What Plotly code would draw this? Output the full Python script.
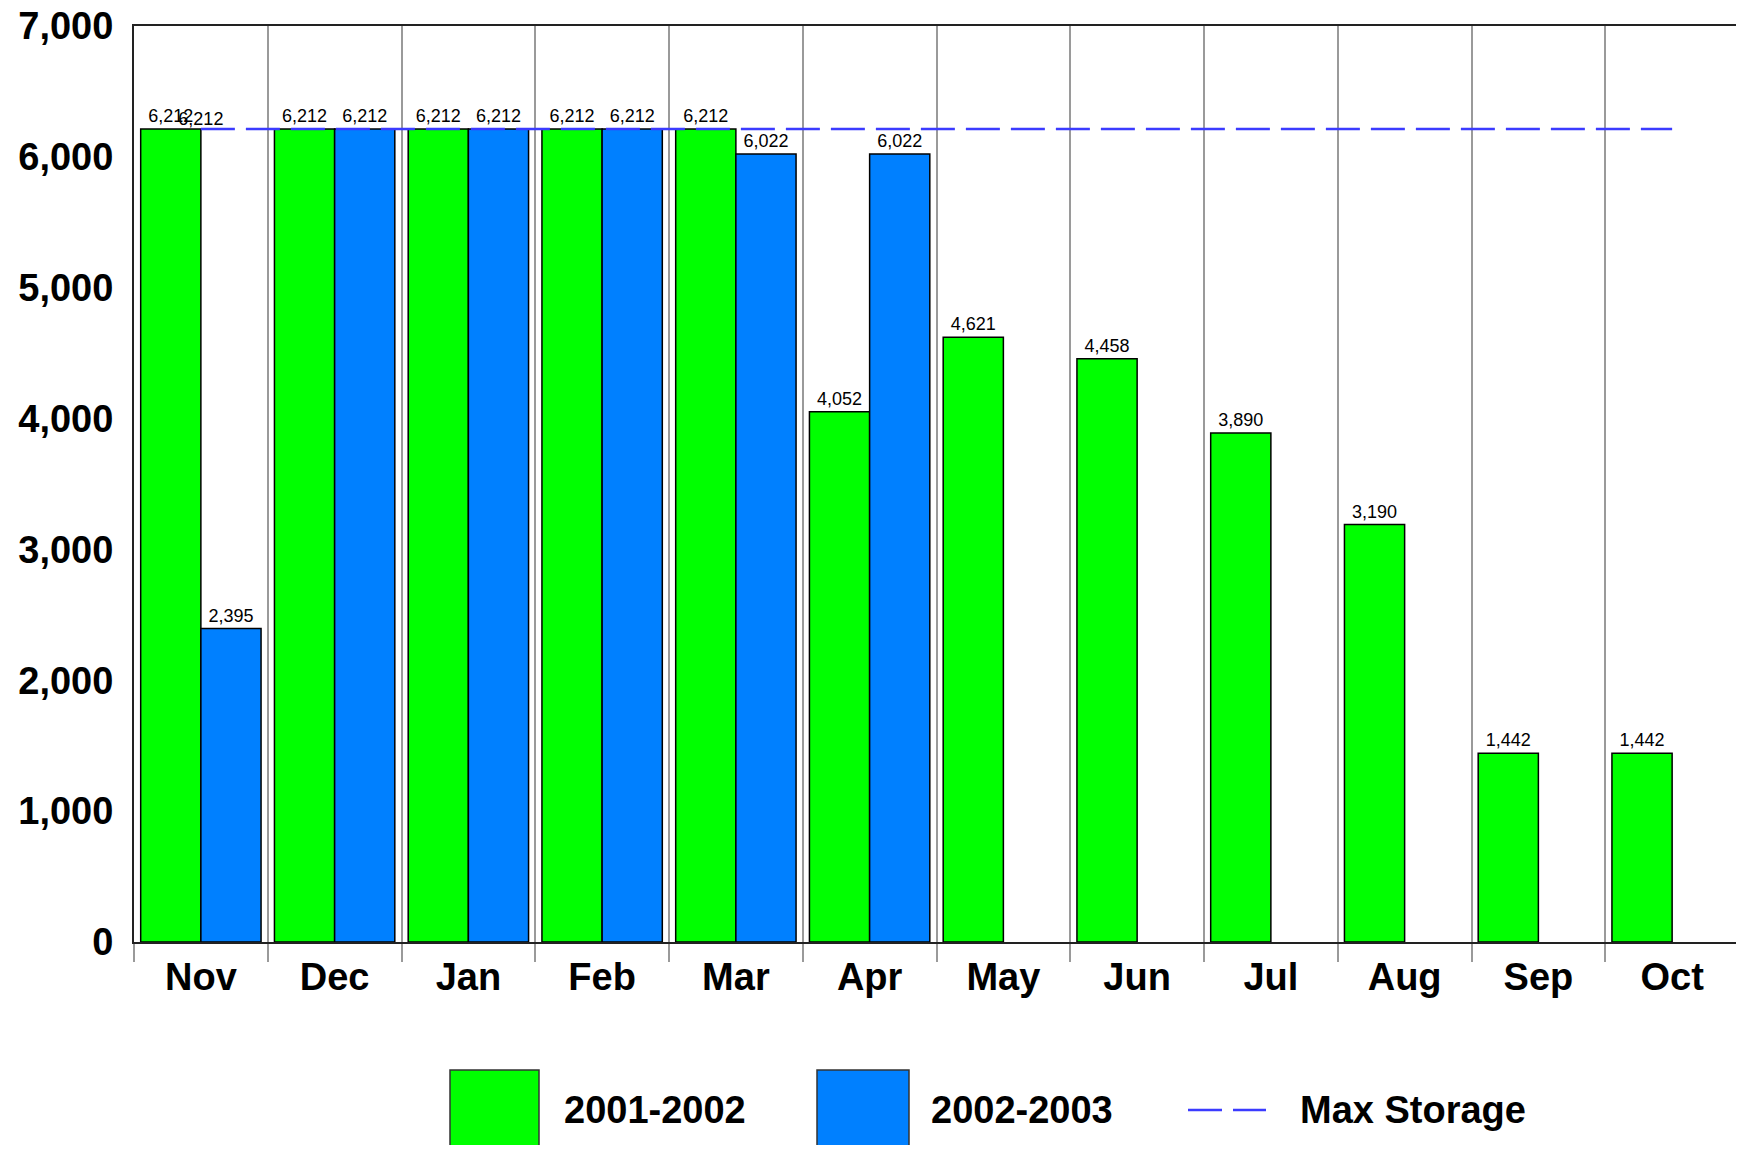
import plotly.graph_objects as go

months = ['Nov', 'Dec', 'Jan', 'Feb', 'Mar', 'Apr', 'May', 'Jun', 'Jul', 'Aug', 'Sep', 'Oct']
storage_2001_2002 = [6212, 6212, 6212, 6212, 6212, 4052, 4621, 4458, 3890, 3190, 1442, 1442]
storage_2002_2003 = [2395, 6212, 6212, 6212, 6022, 6022, None, None, None, None, None, None]
max_storage = [6212] * 12
y_ticks = [0, 1000, 2000, 3000, 4000, 5000, 6000, 7000]
series_names = ['2001-2002', '2002-2003', 'Max Storage']

GREEN = '#00ff00'
BLUE = '#0080ff'
LINE_BLUE = '#3b3bff'
FONT = 'Liberation Sans, Arial, sans-serif'

# the page body keeps its default 8px margin, so the figure is sized to fit inside it
W, H = 1736, 1137
OFF = 8


def fmt(vals):
    return ['' if v is None else f'{v:,}' for v in vals]


fig = go.Figure()

fig.add_bar(x=months, y=storage_2001_2002, name=series_names[0],
            marker=dict(color=GREEN, line=dict(color='black', width=1.5)),
            text=fmt(storage_2001_2002), textposition='outside',
            textfont=dict(size=18, color='black', family=FONT), cliponaxis=False)
fig.add_bar(x=months, y=storage_2002_2003, name=series_names[1],
            marker=dict(color=BLUE, line=dict(color='black', width=1.5)),
            text=fmt(storage_2002_2003), textposition='outside',
            textfont=dict(size=18, color='black', family=FONT), cliponaxis=False)

# only the first point of the max line carries a label in the original
line_text = [f'{v:,}' if i == 0 else '' for i, v in enumerate(max_storage)]
fig.add_scatter(x=months, y=max_storage, name=series_names[2], mode='lines+text',
                line=dict(color=LINE_BLUE, width=2.5, dash='34px,11px'),
                text=line_text, textposition='top center',
                textfont=dict(size=18, color='black', family=FONT), cliponaxis=False)

# plot area in page pixels: x 134..1739, y 26..942
fig.update_layout(
    width=W, height=H,
    margin=dict(l=134 - OFF, r=5, t=26 - OFF, b=H - (942 - OFF)),
    paper_bgcolor='white', plot_bgcolor='white',
    barmode='group', bargap=0.1, bargroupgap=0,
    showlegend=False,
    font=dict(family=FONT, color='black'),
)

fig.update_xaxes(
    type='category', tickson='boundaries', automargin=False,
    range=[-0.5, len(months) - 0.5],
    showgrid=True, gridcolor='#9a9a9a', gridwidth=2,
    ticks='outside', ticklen=18, tickwidth=2, tickcolor='#9a9a9a',
    showline=True, linecolor='#222', linewidth=2, mirror=True,
    tickfont=dict(size=38, weight='bold', family=FONT, color='black'),
)
fig.update_yaxes(
    range=[0, 7000], tickvals=y_ticks, tickformat=',d', automargin=False,
    ticklabeloverflow='allow',
    showgrid=False, zeroline=False, ticks='',
    showline=True, linecolor='#222', linewidth=2, mirror=True,
    tickfont=dict(size=38, weight='bold', family=FONT, color='black'),
    ticklabelstandoff=11,
)

# custom legend below the plot, with large swatches like the original
plot_w, plot_h = 1739 - 134, 942 - 26


def px_x(x):
    return (x - 134) / plot_w


def px_y(y):
    return (942 - y) / plot_h


swatches = [(450, 539, GREEN), (817, 909, BLUE)]
for x0, x1, col in swatches:
    fig.add_shape(type='rect', xref='paper', yref='paper',
                  x0=px_x(x0), x1=px_x(x1), y0=px_y(1070), y1=px_y(1170),
                  fillcolor=col, line=dict(color='#333', width=1.5))
fig.add_shape(type='line', xref='paper', yref='paper',
              x0=px_x(1188), x1=px_x(1266), y0=px_y(1110), y1=px_y(1110),
              line=dict(color=LINE_BLUE, width=2.5, dash='34px,11px'))

for name, left in zip(series_names, [562, 929, 1298]):
    fig.add_annotation(text=name, xref='paper', yref='paper',
                       x=px_x(left), y=px_y(1110), xanchor='left', yanchor='middle',
                       showarrow=False,
                       font=dict(size=38, weight='bold', family=FONT, color='black'))

fig.write_html('out.html')
